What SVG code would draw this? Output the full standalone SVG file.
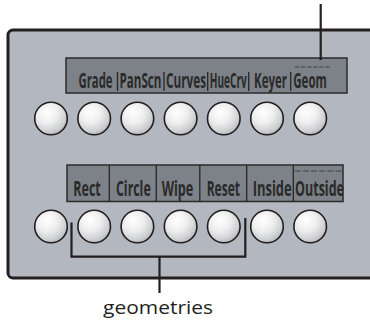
<svg xmlns="http://www.w3.org/2000/svg" width="370" height="322" viewBox="0 0 370 322">
  <defs>
    <radialGradient id="btn" cx="38%" cy="32%" r="72%">
      <stop offset="0" stop-color="#ffffff"/>
      <stop offset="0.45" stop-color="#eeeeef"/>
      <stop offset="0.8" stop-color="#cfd0d3"/>
      <stop offset="1" stop-color="#b5b7bb"/>
    </radialGradient>
    <style>
      .panel { fill: #b3b7bf; stroke: #231f20; stroke-width: 3; }
      .disp { fill: #7c8288; stroke: #2b2b2b; stroke-width: 1.5; }
      .btn { fill: url(#btn); stroke: #231f20; stroke-width: 1.6; }
      .lbl { font-family: "Open Sans", "Noto Sans", sans-serif; font-weight: 700; font-size: 21px; fill: #2a2a2a; }
      .eq { font-family: "DejaVu Sans", sans-serif; font-size: 6px; fill: #45484d; }
      .sep { stroke: #262626; stroke-width: 1.3; }
      .conn { stroke: #231f20; stroke-width: 2.2; fill: none; }
      .cap { font-family: "Open Sans", "Noto Sans", sans-serif; font-size: 19px; fill: #231f20; }
    </style>
  </defs>

  <g id="panel">
    <rect class="panel" x="8" y="30" width="380" height="248" rx="5"/>
  </g>

  <g id="top-display">
    <rect class="disp" x="66" y="58" width="281" height="35"/>
    <line class="sep" x1="117.5" y1="72" x2="117.5" y2="91"/>
    <line class="sep" x1="164" y1="72" x2="164" y2="91"/>
    <line class="sep" x1="207.7" y1="72" x2="207.7" y2="91"/>
    <line class="sep" x1="248.7" y1="72" x2="248.7" y2="91"/>
    <line class="sep" x1="290.7" y1="72" x2="290.7" y2="91"/>
    <g transform="scale(0.6,1)">
      <text class="lbl" x="130.83" y="88" textLength="56.67" lengthAdjust="spacingAndGlyphs">Grade</text>
      <text class="lbl" x="199.17" y="88" textLength="70" lengthAdjust="spacingAndGlyphs">PanScn</text>
      <text class="lbl" x="276.67" y="88" textLength="66.67" lengthAdjust="spacingAndGlyphs">Curves</text>
      <text class="lbl" x="349.5" y="88" textLength="61.67" lengthAdjust="spacingAndGlyphs">HueCrv</text>
      <text class="lbl" x="423.33" y="88" textLength="55" lengthAdjust="spacingAndGlyphs">Keyer</text>
      <text class="lbl" x="488.83" y="88" textLength="55.83" lengthAdjust="spacingAndGlyphs">Geom</text>
    </g>
    <text class="eq" x="294" y="68.5" textLength="36.5" lengthAdjust="spacingAndGlyphs">======</text>
  </g>

  <g id="bottom-display">
    <rect class="disp" x="67" y="165" width="276" height="36.5"/>
    <line class="sep" x1="109.3" y1="165" x2="109.3" y2="201.5"/>
    <line class="sep" x1="156.3" y1="165" x2="156.3" y2="201.5"/>
    <line class="sep" x1="199.8" y1="165" x2="199.8" y2="201.5"/>
    <line class="sep" x1="246.7" y1="165" x2="246.7" y2="201.5"/>
    <line class="sep" x1="293.3" y1="165" x2="293.3" y2="201.5"/>
    <g transform="scale(0.6,1)">
      <text class="lbl" x="122.17" y="196.5" textLength="45.67" lengthAdjust="spacingAndGlyphs">Rect</text>
      <text class="lbl" x="193.33" y="196.5" textLength="57.83" lengthAdjust="spacingAndGlyphs">Circle</text>
      <text class="lbl" x="269.5" y="196.5" textLength="52.67" lengthAdjust="spacingAndGlyphs">Wipe</text>
      <text class="lbl" x="344.5" y="196.5" textLength="55.5" lengthAdjust="spacingAndGlyphs">Reset</text>
      <text class="lbl" x="421.17" y="196.5" textLength="65" lengthAdjust="spacingAndGlyphs">Inside</text>
      <text class="lbl" x="491.67" y="196.5" textLength="81.67" lengthAdjust="spacingAndGlyphs">Outside</text>
    </g>
    <text class="eq" x="293.5" y="172.5" textLength="49" lengthAdjust="spacingAndGlyphs">======</text>
  </g>

  <g id="top-buttons">
    <circle class="btn" cx="51" cy="118.5" r="16.3"/>
    <circle class="btn" cx="94.2" cy="118.5" r="16.3"/>
    <circle class="btn" cx="137.4" cy="118.5" r="16.3"/>
    <circle class="btn" cx="180.6" cy="118.5" r="16.3"/>
    <circle class="btn" cx="223.8" cy="118.5" r="16.3"/>
    <circle class="btn" cx="267" cy="118.5" r="16.3"/>
    <circle class="btn" cx="310.2" cy="118.5" r="16.3"/>
  </g>

  <g id="bottom-buttons">
    <circle class="btn" cx="51" cy="226.5" r="16.3"/>
    <circle class="btn" cx="94.2" cy="226.5" r="16.3"/>
    <circle class="btn" cx="137.4" cy="226.5" r="16.3"/>
    <circle class="btn" cx="180.6" cy="226.5" r="16.3"/>
    <circle class="btn" cx="223.8" cy="226.5" r="16.3"/>
    <circle class="btn" cx="267" cy="226.5" r="16.3"/>
    <circle class="btn" cx="310.2" cy="226.5" r="16.3"/>
  </g>

  <g id="connectors">
    <line class="conn" x1="320.7" y1="4" x2="320.7" y2="60"/>
    <polyline class="conn" points="71.5,222.5 71.5,256.7 245.3,256.7 245.3,218"/>
    <line class="conn" x1="159.5" y1="256.7" x2="159.5" y2="293"/>
  </g>

  <g id="caption">
    <text class="cap" x="103" y="314" textLength="110" lengthAdjust="spacingAndGlyphs">geometries</text>
  </g>
</svg>
